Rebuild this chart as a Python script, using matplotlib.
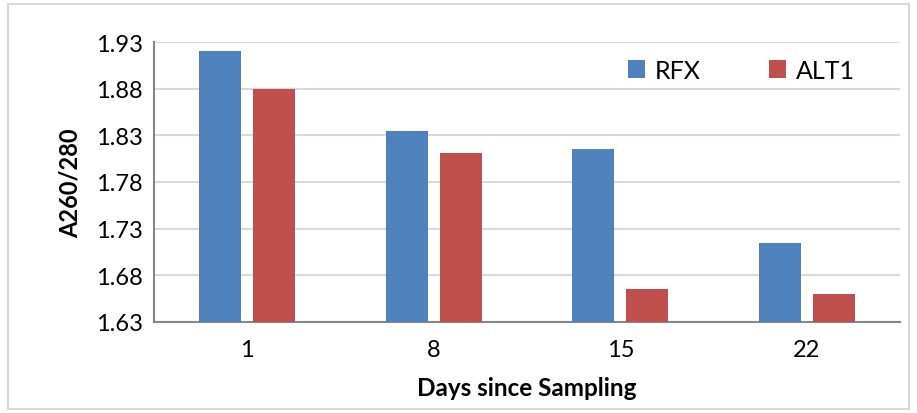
import numpy as np
import matplotlib.pyplot as plt
from matplotlib.patches import Rectangle

# data
days = ['1', '8', '15', '22']
rfx = [1.920, 1.835, 1.815, 1.715]
alt1 = [1.880, 1.811, 1.665, 1.660]

plt.rcParams['font.family'] = ['Lato', 'DejaVu Sans']

fig = plt.figure(figsize=(9.17, 4.14), dpi=100)
ax = fig.add_axes([0.168, 0.22, 0.8135, 0.676])

x = np.arange(len(days))
w = 0.225
ax.bar(x - 0.145, np.array(rfx) - 1.63, w, bottom=1.63, color='#4F81BD', label='RFX', zorder=3)
ax.bar(x + 0.145, np.array(alt1) - 1.63, w, bottom=1.63, color='#C0504D', label='ALT1', zorder=3)

ax.set_xlim(-0.5, len(days) - 0.5)
ax.set_ylim(1.63, 1.93)
ax.set_yticks(np.arange(1.63, 1.931, 0.05))
ax.set_yticklabels(['%.2f' % v for v in np.arange(1.63, 1.931, 0.05)])
ax.set_xticks(x)
ax.set_xticklabels(days)
ax.tick_params(axis='both', length=0, labelsize=17, pad=12)
ax.tick_params(axis='y', pad=8)

ax.yaxis.grid(True, color='#D9D9D9', linewidth=1.5, zorder=0)
ax.set_axisbelow(True)

# Remove plot frame on the right and upper spines
ax.spines['right'].set_visible(False)
ax.spines['top'].set_visible(False)
ax.spines['left'].set_color('#868686')
ax.spines['bottom'].set_color('#868686')
ax.spines['left'].set_linewidth(1.5)
ax.spines['bottom'].set_linewidth(1.5)

ax.set_ylabel('A260/280', fontsize=17, fontweight='bold', labelpad=10)
ax.set_xlabel('Days since Sampling', fontsize=17.5, fontweight='bold', labelpad=12)

ax.legend(loc='upper right', bbox_to_anchor=(0.97, 1.02), ncol=2, frameon=False,
          fontsize=18, handlelength=0.7, handleheight=0.7, columnspacing=2.7, handletextpad=0.4)

# outer chart border
fig.patches.append(Rectangle((8 / 917, 4 / 414), 901 / 917, 405 / 414, transform=fig.transFigure,
                             fill=False, edgecolor='#D9D9D9', linewidth=1.5))

plt.savefig('out.png', dpi=100)
plt.close()
